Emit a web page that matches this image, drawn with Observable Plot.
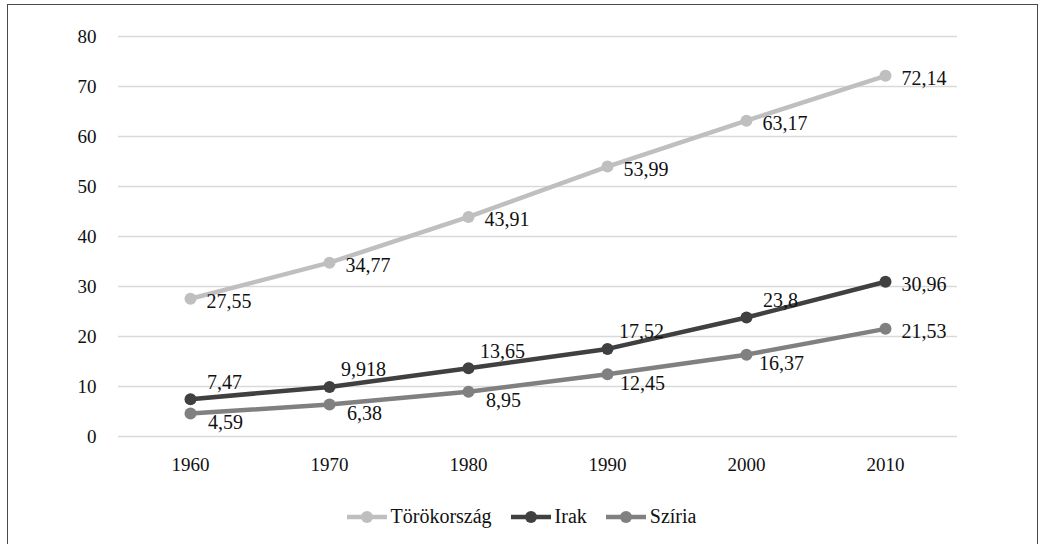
<!DOCTYPE html>
<html>
<head>
<meta charset="utf-8">
<script src="https://cdn.jsdelivr.net/npm/d3@7"></script>
<script src="https://cdn.jsdelivr.net/npm/@observablehq/plot@0.6"></script>
<style>
  html, body { margin: 0; padding: 0; background: #fff; overflow: hidden; }
  #frame { position: absolute; left: 7px; top: 4px; width: 1031px; height: 600px; border: 1.5px solid #4a4a4a; box-sizing: border-box; pointer-events: none; }
  #chart { position: absolute; left: 0; top: 0; }
  #legend { position: absolute; left: 0; top: 505px; width: 1042px; display: flex; justify-content: center; align-items: center; color: #111; }
  .item { display: flex; align-items: center; margin: 0 9px; }
  .item svg { margin-right: 3px; }
  svg text { font-family: 'Liberation Serif', serif; }
</style>
</head>
<body style="font-family:'Liberation Serif', serif; width:1042px; height:544px; position:relative;">
<div id="chart"></div>
<div id="legend" style="font-family:'Liberation Serif', serif; font-size:20px;"></div>
<div id="frame"></div>
<script>
const years = ["1960", "1970", "1980", "1990", "2000", "2010"];
const seriesNames = ["Törökország", "Irak", "Szíria"];
const torokorszag = [27.55, 34.77, 43.91, 53.99, 63.17, 72.14];
const irak = [7.47, 9.918, 13.65, 17.52, 23.8, 30.96];
const sziria = [4.59, 6.38, 8.95, 12.45, 16.37, 21.53];
const colors = ["#bfbfbf", "#404040", "#808080"];
const yTicks = [0, 10, 20, 30, 40, 50, 60, 70, 80];

const seriesValues = [torokorszag, irak, sziria];
const data = [];
seriesNames.forEach((s, si) => {
  years.forEach((y, i) => {
    data.push({series: s, year: y, value: seriesValues[si][i], last: i === years.length - 1});
  });
});
const fmt = v => String(v).replace(".", ",");
const FONT = "'Liberation Serif', serif";

const chart = Plot.plot({
  width: 1042,
  height: 490,
  marginLeft: 118,
  marginRight: 85,
  marginTop: 36,
  marginBottom: 54,
  style: {fontFamily: FONT, fontSize: "19px", color: "#111", background: "transparent", overflow: "visible"},
  x: {type: "point", domain: years, padding: 0.5, label: null},
  y: {domain: [0, 80], label: null},
  color: {domain: seriesNames, range: colors},
  marks: [
    Plot.ruleY(yTicks, {stroke: "#d9d9d9", strokeWidth: 1.5}),
    Plot.axisY({ticks: yTicks, tickSize: 0, tickPadding: 22, fontSize: 19, label: null, fill: "#111"}),
    Plot.axisX({tickSize: 0, tickPadding: 21, fontSize: 19, label: null, fill: "#111"}),
    Plot.line(data, {x: "year", y: "value", z: "series", stroke: "series", strokeWidth: 4.5}),
    Plot.dot(data, {x: "year", y: "value", fill: "series", r: 6}),
    Plot.text(data.filter(d => d.series === "Törökország" || d.last), {
      x: "year", y: "value", text: d => fmt(d.value), textAnchor: "start", dx: 16, dy: 3, fontSize: 20, fill: "#111", fontFamily: FONT
    }),
    Plot.text(data.filter(d => d.series === "Irak" && !d.last), {
      x: "year", y: "value", text: d => fmt(d.value), textAnchor: "middle", dx: 34, dy: -17, fontSize: 20, fill: "#111", fontFamily: FONT
    }),
    Plot.text(data.filter(d => d.series === "Szíria" && !d.last), {
      x: "year", y: "value", text: d => fmt(d.value), textAnchor: "middle", dx: 35, dy: 9, fontSize: 20, fill: "#111", fontFamily: FONT
    })
  ]
});
chart.setAttribute("font-family", FONT);
document.getElementById("chart").appendChild(chart);

const legend = document.getElementById("legend");
seriesNames.forEach((s, i) => {
  const item = document.createElement("div");
  item.className = "item";
  item.innerHTML = `<svg width="42" height="14"><line x1="1" y1="7" x2="41" y2="7" stroke="${colors[i]}" stroke-width="4.5"/><circle cx="21" cy="7" r="6" fill="${colors[i]}"/></svg><span style="font-family:'Liberation Serif', serif">${s}</span>`;
  legend.appendChild(item);
});
</script>
</body>
</html>
